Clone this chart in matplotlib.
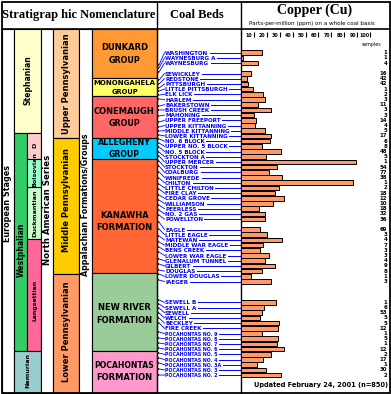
import matplotlib
matplotlib.use('Agg')
import matplotlib.pyplot as plt
from matplotlib.patches import Rectangle
from matplotlib.transforms import blended_transform_factory as blend

# ---------------- data ----------------
coal_beds = ["WASHINGTON", "WAYNESBURG A", "WAYNESBURG",
             "SEWICKLEY", "REDSTONE", "PITTSBURGH", "LITTLE PITTSBURGH", "ELK LICK",
             "HARLEM", "BAKERSTOWN", "BRUSH CREEK", "MAHONING", "UPPER FREEPORT",
             "UPPER KITTANNING", "MIDDLE KITTANNING", "LOWER KITTANNING", "NO. 6 BLOCK",
             "UPPER NO. 5 BLOCK", "NO. 5 BLOCK", "STOCKTON A", "UPPER MERCER", "STOCKTON",
             "COALBURG", "WINIFREDE", "CHILTON", "LITTLE CHILTON", "FIRE CLAY",
             "CEDAR GROVE", "WILLIAMSON", "PEERLESS", "NO. 2 GAS", "POWELLTON",
             "EAGLE", "LITTLE EAGLE", "MATEWAN", "MIDDLE WAR EAGLE", "BENS CREEK",
             "LOWER WAR EAGLE", "GLENALUM TUNNEL", "GILBERT", "DOUGLAS", "LOWER DOUGLAS",
             "IAEGER",
             "SEWELL B", "SEWELL A", "SEWELL", "WELCH", "BECKLEY", "FIRE CREEK",
             "POCAHONTAS NO. 9", "POCAHONTAS NO. 8", "POCAHONTAS NO. 7", "POCAHONTAS NO. 6",
             "POCAHONTAS NO. 5", "POCAHONTAS NO. 4", "POCAHONTAS NO. 3A", "POCAHONTAS NO. 3",
             "POCAHONTAS NO. 2"]
row_slot = [0, 1, 2,
            4, 5, 6, 7, 8, 9, 10, 11, 12, 13, 14, 15, 16, 17, 18, 19, 20, 21, 22,
            23, 24, 25, 26, 27, 28, 29, 30, 31, 32,
            34, 35, 36, 37, 38, 39, 40, 41, 42, 43, 44,
            48, 49, 50, 51, 52, 53, 54, 55, 56, 57, 58, 59, 60, 61, 62]
copper_ppm = [16.4, 2.2, 13.7,
              8.3, 5.2, 6.0, 9.8, 17.5, 19.1, 13.7, 23.7, 10.6, 12.2, 11.4, 19.1, 23.7,
              22.7, 16.8, 31.4, 19.6, 88.6, 28.3, 22.2, 32.2, 86.8, 29.6, 26.8, 33.7,
              25.2, 14.5, 19.1, 19.1,
              15.2, 20.6, 32.2, 17.5, 15.2, 22.2, 19.1, 26.8, 16.4, 8.3, 23.7,
              27.5, 18.3, 16.8, 15.2, 29.8, 29.1, 16.8, 29.1, 28.3, 33.7, 23.7, 17.5,
              12.9, 19.8, 31.4]
samples = [1, 1, 4,
           16, 42, 42, 1, 2, 3, 11, 3, 3, 14, 4, 5, 17, 6, 8, 48, 5, 1, 54, 77, 38, 1,
           2, 18, 12, 10, 18, 32, 36,
           69, 3, 4, 7, 3, 3, 4, 9, 8, 1, 3,
           1, 6, 53, 5, 5, 12, 1, 5, 1, 12, 2, 17, 1, 30, 2]
# stratigraphic position of each bed on the column (pixel rows of the section)
strat_pos = [65, 68, 72,
             80, 84, 88, 91, 95, 99, 106, 110, 116, 122, 127, 131, 135, 139, 143, 147,
             152, 156, 161, 166, 172, 178, 184, 189, 195, 200, 205, 210, 215,
             222, 229, 236, 242, 247, 252, 259, 264, 270, 274, 280,
             300, 304, 308, 313, 318, 323, 332, 338, 343, 348, 353, 358, 363, 369, 375]
ticks = [0, 10, 20, 30, 40, 50, 60, 70, 80, 90, 100]

# stratigraphic blocks: (label, x0, x1, top, bottom, color, fontsize)
eu_blocks = [("Stephanian", 14, 41, 29, 133, "#FFFFCC", 5.6),
             ("Westphalian", 14, 27, 133, 351, "#33CC66", 5.6),
             ("D", 27, 41, 133, 159, "#FFCCCC", 4.6),
             ("Duckmantian", 27, 41, 187, 239, "#CCFFCC", 4.6),
             ("Langsettian", 27, 41, 239, 351, "#FF6699", 4.4),
             ("Namurian", 14, 41, 351, 393, "#99CCCC", 4.6)]
series_blocks = [("Upper Pennsylvanian", 29, 138, "#FFCC99"),
                 ("Middle Pennsylvanian", 138, 274, "#FFCC00"),
                 ("Lower Pennsylvanian", 274, 393, "#FF9966")]
formations = [("DUNKARD", "GROUP", 29, 78, "#FF9933", 6.0, 5.8),
              ("MONONGAHELA", "GROUP", 78, 96, "#FFFF66", 5.0, 4.8),
              ("CONEMAUGH", "GROUP", 96, 138, "#FF6666", 6.0, 5.8),
              ("ALLEGHENY", "GROUP", 138, 159, "#00CCFF", 5.8, 5.6),
              ("KANAWHA", "FORMATION", 159, 273, "#FF6633", 6.0, 6.0),
              ("NEW RIVER", "FORMATION", 273, 351, "#99CC99", 6.0, 6.0),
              ("POCAHONTAS", "FORMATION", 351, 393, "#FF99CC", 5.6, 6.0)]

# ---------------- figure ----------------
W, H = 391, 394
fig = plt.figure(figsize=(W / 100, H / 100), dpi=100)
fig.patch.set_facecolor("white")
ov = fig.add_axes([0, 0, 1, 1])
ov.set_xlim(0, W)
ov.set_ylim(H, 0)
ov.axis("off")

x0, x1, y0, y1 = 240.5, 389, 32, 393
ax = fig.add_axes([x0 / W, 1 - y1 / H, (x1 - x0) / W, (y1 - y0) / H])
ax.patch.set_alpha(0)
ax.set_xlim(0, (x1 - x0) / 1.3)
ROW0, ROW = 52.7, 5.2
ax.set_ylim((y1 - ROW0) / ROW, (y0 - ROW0) / ROW)
for sp in ax.spines.values():
    sp.set_visible(False)

SANS = "DejaVu Sans"
SERIF = "Liberation Serif"

# frame and header
ov.add_patch(Rectangle((1.5, 1.5), 388, 391.5, fill=False, lw=1.3, ec="black", zorder=5))
ov.plot([1.5, 389.5], [29, 29], color="black", lw=1.2, zorder=5)
ov.plot([157, 157], [1.5, 393], color="black", lw=1.0, zorder=5)
ov.plot([240.5, 240.5], [1.5, 393], color="black", lw=1.0, zorder=5)
ov.text(79, 15, "Stratigrap hic Nomenclature", family=SERIF, weight="bold",
        fontsize=9, ha="center", va="center")
ov.text(197, 15, "Coal Beds", family=SERIF, weight="bold", fontsize=9,
        ha="center", va="center")
ov.text(315, 10.5, "Copper (Cu)", family=SERIF, weight="bold", fontsize=10,
        ha="center", va="center")
ov.text(312, 23.5, "Parts-per-million (ppm) on a whole coal basis", family=SANS,
        fontsize=4.1, ha="center", va="center")

# European stages column
ov.add_patch(Rectangle((1.5, 29), 12.5, 364, fc="white", ec="black", lw=0.8))
ov.text(8, 203, "European Stages", family=SANS, weight="bold", fontsize=5.8,
        rotation=90, ha="center", va="center")
for name, bx0, bx1, top, bot, col, fs in eu_blocks:
    ov.add_patch(Rectangle((bx0, top), bx1 - bx0, bot - top, fc=col, ec="black", lw=0.8))
eu_pos = {"Stephanian": 80, "Westphalian": 250, "D": 145, "Duckmantian": 213,
          "Langsettian": 300, "Namurian": 370}
for name, bx0, bx1, top, bot, col, fs in eu_blocks:
    ov.text((bx0 + bx1) / 2 + 0.5, eu_pos[name], name, family=SANS, weight="bold",
            fontsize=fs, rotation=90, ha="center", va="center")
bols = Rectangle((27, 159), 14, 28, fc="#99FFCC", ec="black", lw=0.8)
ov.add_patch(bols)
tb = ov.text(34.5, 186.5, "Bolsovian", family=SANS, weight="bold", fontsize=4.6,
             rotation=90, ha="center", va="bottom")
tb.set_clip_path(bols)

# North American series column
ov.add_patch(Rectangle((41, 29), 12, 364, fc="white", ec="black", lw=0.8))
ov.text(47.5, 210, "North American Series", family=SANS, weight="bold", fontsize=6.2,
        rotation=90, ha="center", va="center")
for name, top, bot, col in series_blocks:
    ov.add_patch(Rectangle((53, top), 26, bot - top, fc=col, ec="black", lw=0.8))
ser_pos = [84, 200, 332]
for (name, top, bot, col), yy in zip(series_blocks, ser_pos):
    ov.text(66.5, yy, name, family=SANS, weight="bold", fontsize=6.0, rotation=90,
            ha="center", va="center")

# Appalachian column
ov.add_patch(Rectangle((79, 29), 13, 364, fc="white", ec="black", lw=0.8))
ov.text(86, 205, "Appalachian Formations/Groups", family=SANS, weight="bold",
        fontsize=5.7, rotation=90, ha="center", va="center")

for l1, l2, top, bot, col, fs1, fs2 in formations:
    ov.add_patch(Rectangle((92, top), 65, bot - top, fc=col, ec="black", lw=0.8))
form_pos = [(47, 60), (82.5, 92), (111, 123), (142, 154), (215, 227), (308, 320.5),
            (366, 378)]
for (l1, l2, top, bot, col, fs1, fs2), (ya, yb) in zip(formations, form_pos):
    ov.text(124.5, ya, l1, family=SANS, weight="bold", fontsize=fs1, ha="center", va="center")
    ov.text(124.5, yb, l2, family=SANS, weight="bold", fontsize=fs2, ha="center", va="center")

# bars
ax.barh(row_slot, copper_ppm, height=0.9, color="#FF9966", edgecolor="black",
        linewidth=0.7, zorder=3)
ax.set_xticks(ticks)
ax.tick_params(axis="x", top=True, bottom=False, labeltop=False, labelbottom=False,
               direction="in", length=3.6, width=0.8, color="black")
ax.tick_params(axis="y", left=False, labelleft=False)
tx = blend(ax.transData, ov.transData)
for v in ticks[1:]:
    ax.text(v - 0.9, 35.5, str(v), transform=tx, family=SANS, weight="bold",
            fontsize=3.4, ha="right", va="center")
ov.text(381, 44.5, "samples", family=SANS, fontsize=3.4, ha="right", va="center")

# sample counts
ty = blend(ov.transData, ax.transData)
for s, n in zip(row_slot, samples):
    ax.text(387, s, str(n), transform=ty, family=SANS, weight="bold", fontsize=3.9,
            ha="right", va="center")

# coal bed labels
labels = []
for s, name in zip(row_slot, coal_beds):
    fs = 3.4 if name.startswith("POCAHONTAS") else 4.1
    t = ax.text(165, s + 0.1, name, transform=ty, family=SANS, weight="bold",
                fontsize=fs, color="#0000FF", ha="left", va="center")
    labels.append(t)

ov.scatter([158.2] * len(strat_pos), strat_pos, s=2.2, marker="s", color="#222222",
           zorder=6, linewidths=0)

fig.canvas.draw()
r = fig.canvas.get_renderer()
inv = ov.transData.inverted()
for t, s, sp in zip(labels, row_slot, strat_pos):
    bb = t.get_window_extent(r)
    (xa, ya), (xb, yb) = inv.transform([[bb.x0, bb.y0], [bb.x1, bb.y1]])
    yrow = inv.transform(ax.transData.transform((0, s)))[1]
    ov.plot([xb + 1.5, 240.5], [yrow, yrow], color="#0000FF", lw=0.7, zorder=4)
    ov.plot([159, 164.5], [sp, yrow], color="#0000FF", lw=0.6, zorder=4)

ov.text(388, 385, "Updated February 24, 2001 (n=850)", family=SANS, weight="bold",
        fontsize=4.8, ha="right", va="center")

fig.savefig("out.png", dpi=100)
